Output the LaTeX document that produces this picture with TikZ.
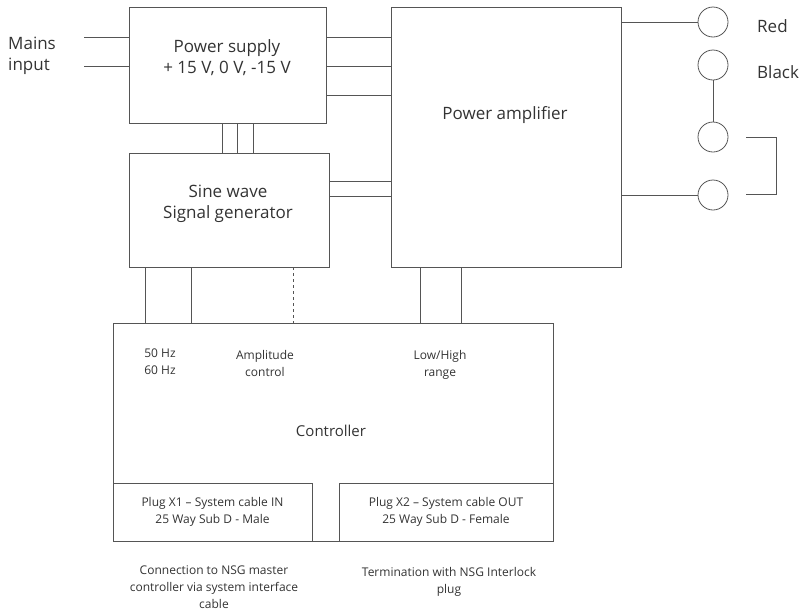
\documentclass[tikz,border=0pt]{standalone}
\usepackage{fontspec}
\setmainfont{Open Sans}
\definecolor{linec}{HTML}{555555}
\definecolor{textc}{HTML}{333333}
\tikzset{
  box/.style={draw=linec, line width=0.8pt, inner sep=0pt, outer sep=0pt, rectangle},
  term/.style={draw=linec, line width=0.8pt, circle, minimum size=30pt, inner sep=0pt, outer sep=0pt},
  wire/.style={draw=linec, line width=0.8pt},
  big/.style={text=textc, inner sep=0pt, font=\fontsize{17}{20.7}\selectfont},
  mid/.style={text=textc, inner sep=0pt, font=\fontsize{15}{18}\selectfont},
  small/.style={text=textc, inner sep=0pt, align=center, font=\fontsize{12}{17}\selectfont},
}
\begin{document}
\begin{tikzpicture}[x=1pt,y=-1pt]
\useasboundingbox (0,0) rectangle (806,611);
% boxes
\node[box, minimum width=197pt, minimum height=116pt] (ps) at (227.5,65) {};
\node[box, minimum width=230pt, minimum height=260pt] (pa) at (506,137) {};
\node[box, minimum width=200pt, minimum height=114pt] (sw) at (229,210) {};
\node[box, minimum width=440pt, minimum height=218pt] (ct) at (333,432) {};
\node[box, minimum width=199pt, minimum height=58pt, small] (p1) at (212.5,512) {Plug X1 – System cable IN\\25 Way Sub D - Male};
\node[box, minimum width=214pt, minimum height=58pt, small] (p2) at (446,512) {Plug X2 – System cable OUT\\25 Way Sub D - Female};
% terminals
\node[term] (red) at (713,22) {};
\node[term] (black) at (713,65) {};
\node[term] (t3) at (713,137) {};
\node[term] (t4) at (713,195) {};
% texts
\node[big, align=left, anchor=west] (mains) at (8,55.5) {Mains\\input};
\node[big, align=center] (pstext) at (227,57.5) {Power supply\\+ 15 V, 0 V, -15 V};
\node[big, anchor=base] (patext) at (505,119) {Power amplifier};
\node[big, align=center] (swtext) at (228,204) {Sine wave\\Signal generator};
\node[mid, anchor=base] (cttext) at (331,436) {Controller};
\node[small] (hz) at (160,361.5) {50 Hz\\60 Hz};
\node[small] (amp) at (265,363) {Amplitude\\control};
\node[small] (range) at (440,365) {Low/High\\range};
\node[small] (conn) at (214,587) {Connection to NSG master\\controller via system interface\\cable};
\node[small] (termi) at (449,582) {Termination with NSG Interlock\\plug};
\node[big, anchor=base west] (redt) at (757,32) {Red};
\node[big, anchor=base west] (blackt) at (757,78) {Black};
% mains input wires
\coordinate (m1) at (84,37);
\coordinate (m2) at (84,66);
\draw[wire] (m1) -- (ps.west |- m1);
\draw[wire] (m2) -- (ps.west |- m2);
% power supply to amplifier
\foreach \yy in {37,66,95} \draw[wire] (ps.east |- 0,\yy) -- (pa.west |- 0,\yy);
% power supply to sine wave
\foreach \xx in {222,237,253} \draw[wire] (ps.south -| \xx,0) -- (sw.north -| \xx,0);
% sine wave to amplifier
\foreach \yy in {181,196} \draw[wire] (sw.east |- 0,\yy) -- (pa.west |- 0,\yy);
% sine wave to controller
\foreach \xx in {145,191} \draw[wire] (sw.south -| \xx,0) -- (ct.north -| \xx,0);
\draw[wire, dashed, dash pattern=on 3pt off 3pt] (sw.south -| 293,0) -- (ct.north -| 293,0);
% amplifier to controller
\foreach \xx in {420,461} \draw[wire] (pa.south -| \xx,0) -- (ct.north -| \xx,0);
% amplifier to terminals
\draw[wire] (pa.east |- red) -- (red.west);
\draw[wire] (pa.east |- t4) -- (t4.west);
\draw[wire] (black.south) -- (t3.north);
% bracket
\coordinate (b1) at (746,137);
\coordinate (b2) at (746,194);
\draw[wire] (b1) -- ++(30,0) |- (b2);
\end{tikzpicture}
\end{document}
